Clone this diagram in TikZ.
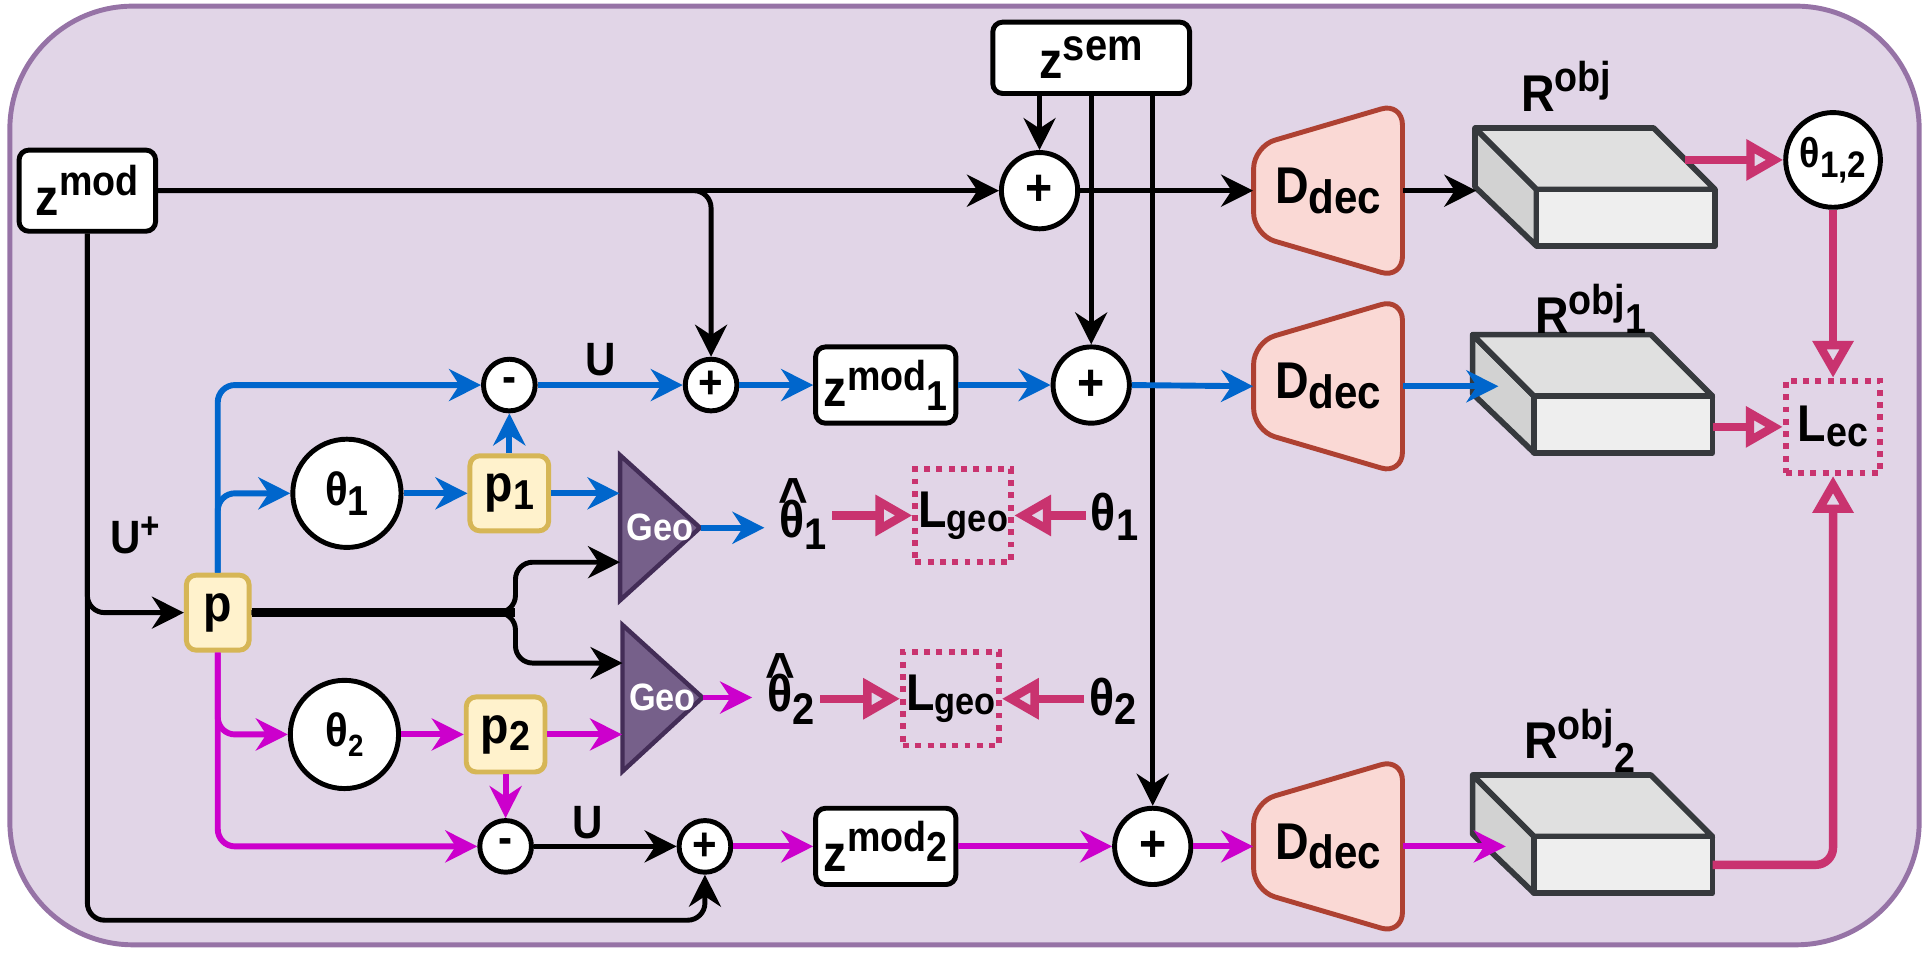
\documentclass[tikz,border=0pt]{standalone}
\usepackage{fontspec}
\setmainfont{Liberation Sans}[FakeStretch=0.9]
\usetikzlibrary{arrows.meta}
\definecolor{bgfill}{HTML}{E1D5E7}
\definecolor{bgdraw}{HTML}{9673A6}
\definecolor{cblue}{HTML}{0066CC}
\definecolor{cmag}{HTML}{CC00CC}
\definecolor{ccrim}{HTML}{C9336F}
\definecolor{decfill}{HTML}{FAD9D5}
\definecolor{decdraw}{HTML}{AE4132}
\definecolor{pfill}{HTML}{FFF2CC}
\definecolor{pdraw}{HTML}{D6B656}
\definecolor{geofill}{HTML}{76608A}
\definecolor{geodraw}{HTML}{432D57}
\definecolor{boxdraw}{HTML}{36393D}
\definecolor{boxtop}{HTML}{E0E0E0}
\definecolor{boxleft}{HTML}{D2D2D2}
\definecolor{boxfront}{HTML}{EEEEEE}
\newcommand{\fs}[1]{\fontsize{#1}{#1}\selectfont}
\newcommand{\sbx}[3]{\raisebox{#2}{\fs{#1}#3}}
\newcommand{\hatt}{\rlap{\kern-0.6pt\raisebox{7.8pt}{\fs{23}\textasciicircum}}}
\newcommand{\decat}[2]{\draw[decshape] ({#1-60.5},{#2-36}) -- ({#1+60.5},{#2-71.5}) -- ({#1+60.5},{#2+71.5}) -- ({#1-60.5},{#2+36}) -- cycle;}
\newcommand{\boxat}[2]{%
 \filldraw[boxline, fill=boxleft] (#1,#2) -- ({#1+50},{#2+50}) -- ({#1+50},{#2+96}) -- (#1,{#2+48}) -- cycle;
 \filldraw[boxline, fill=boxtop] (#1,#2) -- ({#1+145},#2) -- ({#1+195},{#2+50}) -- ({#1+50},{#2+50}) -- cycle;
 \filldraw[boxline, fill=boxfront] ({#1+50},{#2+50}) rectangle ({#1+195},{#2+96});}
\begin{document}
\begin{tikzpicture}[x=0.5pt,y=-0.5pt,
  txt/.style={font=\fs{21}\bfseries, text=black},
  wbox/.style={txt, draw=black, fill=white, line width=2pt, rounded corners=4pt, inner sep=0pt},
  bigsum/.style={txt, circle, draw=black, fill=white, line width=2pt, inner sep=0pt, minimum size=31pt},
  smsum/.style={bigsum, minimum size=21pt, font=\fs{19}\bfseries},
  thcirc/.style={circle, draw=black, fill=white, line width=2pt, inner sep=0pt, minimum size=44pt, font=\fs{19}\bfseries},
  pbox/.style={txt, draw=pdraw, fill=pfill, line width=2pt, rounded corners=4pt, inner sep=0pt},
  lossbox/.style={txt, draw=ccrim, line width=2.4pt, dash pattern=on 2.4pt off 2.6pt, inner sep=0pt, minimum width=39pt, minimum height=38pt},
  lbl/.style={txt, inner sep=0pt},
  ablk/.style={line width=2pt, draw=black, -{Stealth[length=13pt,width=13pt]}},
  ablu/.style={line width=2.4pt, draw=cblue, -{Stealth[length=13pt,width=13pt]}},
  amag/.style={line width=2.4pt, draw=cmag, -{Stealth[length=13pt,width=13pt]}},
  acrim/.style={line width=3.4pt, draw=ccrim, -{Triangle[open,length=15pt,width=16pt]}},
  rc/.style={rounded corners=7pt},
  decshape/.style={draw=decdraw, fill=decfill, line width=2pt, rounded corners=9pt},
  geoshape/.style={draw=geodraw, fill=geofill, line width=1.8pt},
  geotxt/.style={font=\fs{15.5}\bfseries, text=white, inner sep=0pt, minimum width=32.5pt, minimum height=59pt},
  boxline/.style={draw=boxdraw, line width=2.3pt, line join=round},
]
\useasboundingbox (0,0) rectangle (1568,779);
\draw[draw=bgdraw, fill=bgfill, line width=2pt, rounded corners=50pt] (8,5) rectangle (1560,768);

% shapes drawn directly
\decat{1079.5}{155}
\decat{1079.5}{314}
\decat{1079.5}{688}
\boxat{1199}{104}
\boxat{1197}{272}
\boxat{1197}{630}
\draw[geoshape] (504,370) -- (569,429) -- (504,488) -- cycle;
\draw[geoshape] (506,508) -- (571,567) -- (506,627) -- cycle;

% connector end points on the boxes
\coordinate (b1in) at (1200,155);
\coordinate (b1out) at (1370,130);
\coordinate (b2in) at (1218,314);
\coordinate (b2out) at (1392,347);
\coordinate (b3in) at (1224,688);
\coordinate (b3out) at (1392,703);
\coordinate (sp) at (419,498);
\coordinate (g1b) at (504,457);
\coordinate (g2a) at (506,539);
\coordinate (bl) at (71,748);

% nodes
\node[wbox, minimum width=55.5pt, minimum height=33pt] (zmod) at (71,155) {z\sbx{17}{8pt}{mod}};
\node[wbox, minimum width=80pt, minimum height=29pt] (zsem) at (887,47) {z\sbx{18}{7.3pt}{sem}};
\node[bigsum] (sA) at (845,155) {+};
\node[bigsum] (sB) at (887,313) {+};
\node[bigsum] (sE) at (937,688) {+};
\node[smsum] (sC) at (578,313) {+};
\node[smsum] (sD) at (573,688) {+};
\node[smsum] (m1) at (414,313) {-};
\node[smsum] (m2) at (411,688) {-};
\node[wbox, minimum width=57pt, minimum height=31pt] (zm1) at (720,313) {z\sbx{17}{6.5pt}{mod\raisebox{-8pt}{1}}};
\node[wbox, minimum width=57pt, minimum height=31pt] (zm2) at (720,688) {z\sbx{17}{8pt}{mod\raisebox{-4pt}{2}}};
\node[thcirc] (th1) at (282,401) {θ\sbx{17}{-4pt}{1}};
\node[thcirc] (th2) at (280,597) {θ\sbx{12.5}{-4pt}{2}};
\node[pbox, minimum width=32pt, minimum height=30.5pt] (p1) at (414,401) {p\sbx{17}{-3pt}{1}};
\node[pbox, minimum width=32pt, minimum height=30.5pt] (p2) at (411,597) {p\sbx{17}{-3pt}{2}};
\node[pbox, minimum width=25.5pt, minimum height=30.5pt] (p) at (177,498) {p};
\node[geotxt] (geo1) at (536.5,429) {Geo};
\node[geotxt] (geo2) at (538.5,567) {Geo};
\node[lbl] (th1h) at (653,418) {\hatt θ\sbx{18}{-5pt}{1}};
\node[lbl] (th2h) at (643,560) {\hatt θ\sbx{18}{-5pt}{2}};
\node[lossbox] (lg1) at (783,419) {L\sbx{15.5}{-1.5pt}{geo}};
\node[lossbox] (lg2) at (773,568) {L\sbx{15.5}{-1.5pt}{geo}};
\node[lbl] (t1r) at (906,420) {θ\sbx{18}{-4pt}{1}};
\node[lbl] (t2r) at (905,570) {θ\sbx{18}{-4pt}{2}};
\node[lbl] (U1) at (488,292) {\fs{19}U};
\node[lbl] (U2) at (478,669) {\fs{19}U};
\node[lbl] (Up) at (110,435) {\fs{19}U\sbx{15}{6pt}{+}};
\node[txt, inner sep=0pt, minimum width=60.5pt, minimum height=71.5pt] (d1) at (1079.5,155) {D\sbx{19}{-4pt}{dec}};
\node[txt, inner sep=0pt, minimum width=60.5pt, minimum height=71.5pt] (d2) at (1079.5,314) {D\sbx{19}{-4pt}{dec}};
\node[txt, inner sep=0pt, minimum width=60.5pt, minimum height=71.5pt] (d3) at (1079.5,688) {D\sbx{19}{-4pt}{dec}};
\node[lbl] (r1) at (1273,70) {R\sbx{17}{8pt}{obj}};
\node[lbl] (r2) at (1293,251) {R\sbx{17}{7.5pt}{obj\raisebox{-7.5pt}{1}}};
\node[lbl] (r3) at (1284,602) {R\sbx{17}{8pt}{obj\raisebox{-13.5pt}{2}}};
\node[thcirc, minimum size=38.5pt, font=\fs{17}\bfseries] (t12) at (1490,130) {θ\sbx{15}{-4pt}{1,2}};
\node[lossbox, minimum width=38.5pt, minimum height=37.5pt] (lec) at (1490,347) {L\sbx{17}{-2pt}{ec}};

% black connectors
\draw[ablk] (zmod.east) -- (sA.west);
\draw[ablk, rc] (zmod.east) -- (zmod.east -| sC.north) -- (sC.north);
\draw[ablk] (zsem.south -| sA.north) -- (sA.north);
\draw[ablk] (zsem.south -| sB.north) -- (sB.north);
\draw[ablk] (zsem.south -| sE.north) -- (sE.north);
\draw[ablk] (sA.east) -- (d1.west);
\draw[ablk] (d1.east) -- (b1in);
\draw[ablk, rc] (zmod.south) -- (zmod.south |- p.west) -- (p.west);
\draw[ablk, rc] (zmod.south) -- (bl) -- (bl -| sD.south) -- (sD.south);
\draw[line width=3.4pt] (p.east) -- (sp);
\draw[ablk, rc] (p.east) -- (sp) -- (sp |- g1b) -- (g1b);
\draw[ablk, rc] (p.east) -- (sp) -- (sp |- g2a) -- (g2a);
\draw[ablk] (m2.east) -- (sD.west);

% blue connectors
\draw[ablu, rc] (p.north) -- (p.north |- m1.west) -- (m1.west);
\draw[ablu, rc] (p.north) -- (p.north |- th1.west) -- (th1.west);
\draw[ablu] (th1.east) -- (p1.west);
\draw[ablu] (p1.north) -- (m1.south);
\draw[ablu] (p1.east) -- (p1.east -| geo1.west);
\draw[ablu] (geo1.east) -- ([xshift=-6pt]th1h.west |- geo1.east);
\draw[ablu] (m1.east) -- (sC.west);
\draw[ablu] (sC.east) -- (zm1.west);
\draw[ablu] (zm1.east) -- (sB.west);
\draw[ablu] (sB.east) -- (d2.west);
\draw[ablu] (d2.east) -- (b2in);

% magenta connectors
\draw[amag, rc] (p.south) -- (p.south |- th2.west) -- (th2.west);
\draw[amag, rc] (p.south) -- (p.south |- m2.west) -- (m2.west);
\draw[amag] (th2.east) -- (p2.west);
\draw[amag] (p2.east) -- (p2.east -| geo2.west);
\draw[amag] (p2.south) -- (m2.north);
\draw[amag] (geo2.east) -- ([xshift=-6pt]th2h.west |- geo2.east);
\draw[amag] (sD.east) -- (zm2.west);
\draw[amag] (zm2.east) -- (sE.west);
\draw[amag] (sE.east) -- (d3.west);
\draw[amag] (d3.east) -- (b3in);

% crimson loss connectors
\draw[acrim] ([xshift=2pt]th1h.east |- lg1.west) -- (lg1.west);
\draw[acrim] ([xshift=-2pt]t1r.west |- lg1.east) -- (lg1.east);
\draw[acrim] ([xshift=2pt]th2h.east |- lg2.west) -- (lg2.west);
\draw[acrim] ([xshift=-2pt]t2r.west |- lg2.east) -- (lg2.east);
\draw[acrim] (b1out) -- (t12.west);
\draw[acrim] (t12.south) -- (lec.north);
\draw[acrim] (b2out) -- (lec.west);
\draw[acrim, rc] (b3out) -- (b3out -| lec.south) -- (lec.south);
\end{tikzpicture}
\end{document}
